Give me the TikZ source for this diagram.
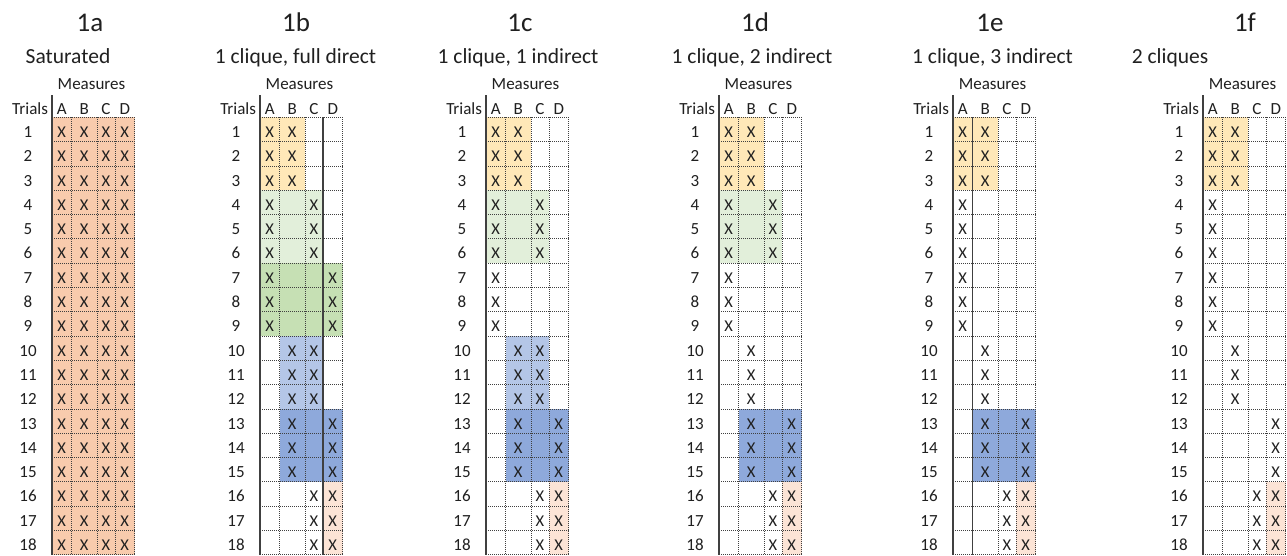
\documentclass[tikz,border=0pt]{standalone}
\usepackage{fontspec}
\setmainfont{Carlito}
\definecolor{salmon}{HTML}{F8CBAD}
\definecolor{ylw}{HTML}{FFE8B8}
\definecolor{lgreen}{HTML}{E2EFDA}
\definecolor{mgreen}{HTML}{C6E0B4}
\definecolor{lblue}{HTML}{B4C6E7}
\definecolor{mblue}{HTML}{8EA9DB}
\definecolor{lpeach}{HTML}{FCE4D6}
\definecolor{gridc}{HTML}{404040}
\definecolor{txt}{HTML}{202020}

\def\yt{117.4}
\def\rh{24.3}
\def\ca{0}\def\cb{19.5}\def\cc{45}\def\cd{63}\def\ce{82.5}
\def\ccA{9.75}\def\ccB{32.25}\def\ccC{54}\def\ccD{72.75}

\newcommand\blk[6]{\fill[#6] ({#1+#2},{\yt+(#4-1)*\rh}) rectangle ({#1+#3},{\yt+#5*\rh});}
\newcommand\xm[4]{\foreach \rr in {#4} {\node[xmark] (p#1-#3\rr) at ({#2+\csname cc#3\endcsname},{\yt+\rr*\rh-4.3}) {X};}}
\newcommand\panel[5]{%
  \foreach \k in {0,...,18} \draw[gridline] (#2,{\yt+\k*\rh}) -- ({#2+\ce},{\yt+\k*\rh});
  \foreach \cx in {\cb,\cc,\cd,\ce} \draw[gridline] ({#2+\cx},\yt) -- ({#2+\cx},{\yt+18*\rh});
  \draw[axisline] (#2,95) -- (#2,555);
  \foreach \rr in {1,...,18} \node[rownum] (p#1-r\rr) at ({#2-24},{\yt+\rr*\rh-4.3}) {\rr};
  \node[hdr, anchor=base east] (p#1-trials) at ({#2-4},114) {Trials};
  \foreach \L in {A,B,C,D} \node[hdr] (p#1-h\L) at ({#2+\csname cc\L\endcsname},114) {\L};
  \node[hdr] (p#1-meas) at ({#2+39.5},89.3) {Measures};
  \node[ttl] (p#1-title) at (#3,31.7) {#1};
  \node[sub] (p#1-sub) at (#4,63.3) {#5};
}

\tikzset{
  every node/.style={inner sep=0pt, outer sep=0pt, anchor=base, text=txt},
  gridline/.style={draw=gridc, line width=0.9pt, dash pattern=on 1pt off 1pt},
  axisline/.style={draw=black!75, line width=1.5pt},
  rownum/.style={font=\fontsize{17}{19}\selectfont},
  xmark/.style={font=\fontsize{16.5}{19}\selectfont},
  hdr/.style={font=\fontsize{17}{19}\selectfont},
  ttl/.style={font=\fontsize{27}{31}\selectfont},
  sub/.style={font=\fontsize{21.5}{26}\selectfont},
}

\begin{document}
\begin{tikzpicture}[x=1pt,y=-1pt]
\useasboundingbox[fill=white] (0,0) rectangle (1287,555);

% ---- 1a
\blk{52}{\ca}{\ce}{1}{18}{salmon}
\panel{1a}{52}{90}{68}{Saturated}
\xm{1a}{52}{A}{1,...,18}\xm{1a}{52}{B}{1,...,18}\xm{1a}{52}{C}{1,...,18}\xm{1a}{52}{D}{1,...,18}

% ---- 1b
\blk{260}{\ca}{\cc}{1}{3}{ylw}
\blk{260}{\ca}{\cd}{4}{6}{lgreen}
\blk{260}{\ca}{\ce}{7}{9}{mgreen}
\blk{260}{\cb}{\cd}{10}{12}{lblue}
\blk{260}{\cb}{\ce}{13}{15}{mblue}
\blk{260}{\cd}{\ce}{16}{18}{lpeach}
\panel{1b}{260}{296}{295.5}{1 clique, full direct}
\draw[axisline] ({260+\cd},\yt) -- ({260+\cd},555);
\xm{1b}{260}{A}{1,...,9}
\xm{1b}{260}{B}{1,2,3,10,11,12,13,14,15}
\xm{1b}{260}{C}{4,5,6,10,11,12,16,17,18}
\xm{1b}{260}{D}{7,8,9,13,14,15,16,17,18}

% ---- 1c
\blk{486}{\ca}{\cc}{1}{3}{ylw}
\blk{486}{\ca}{\cd}{4}{6}{lgreen}
\blk{486}{\cb}{\cd}{10}{12}{lblue}
\blk{486}{\cb}{\ce}{13}{15}{mblue}
\blk{486}{\cd}{\ce}{16}{18}{lpeach}
\panel{1c}{486}{520}{518}{1 clique, 1 indirect}
\xm{1c}{486}{A}{1,...,9}
\xm{1c}{486}{B}{1,2,3,10,11,12,13,14,15}
\xm{1c}{486}{C}{4,5,6,10,11,12,16,17,18}
\xm{1c}{486}{D}{13,...,18}

% ---- 1d
\blk{719}{\ca}{\cc}{1}{3}{ylw}
\blk{719}{\ca}{\cd}{4}{6}{lgreen}
\blk{719}{\cb}{\ce}{13}{15}{mblue}
\blk{719}{\cd}{\ce}{16}{18}{lpeach}
\panel{1d}{719}{755}{752}{1 clique, 2 indirect}
\xm{1d}{719}{A}{1,...,9}
\xm{1d}{719}{B}{1,2,3,10,11,12,13,14,15}
\xm{1d}{719}{C}{4,5,6,16,17,18}
\xm{1d}{719}{D}{13,...,18}

% ---- 1e
\blk{953}{\ca}{\cc}{1}{3}{ylw}
\blk{953}{\cb}{\ce}{13}{15}{mblue}
\blk{953}{\cd}{\ce}{16}{18}{lpeach}
\panel{1e}{953}{990}{992.5}{1 clique, 3 indirect}
\draw[axisline] ({953+\cb},\yt) -- ({953+\cb},555);
\xm{1e}{953}{A}{1,...,9}
\xm{1e}{953}{B}{1,2,3,10,11,12,13,14,15}
\xm{1e}{953}{C}{16,17,18}
\xm{1e}{953}{D}{13,...,18}

% ---- 1f
\blk{1203}{\ca}{\cc}{1}{3}{ylw}
\blk{1203}{\cd}{\ce}{16}{18}{lpeach}
\panel{1f}{1203}{1245}{1170}{2 cliques}
\xm{1f}{1203}{A}{1,...,9}
\xm{1f}{1203}{B}{1,2,3,10,11,12}
\xm{1f}{1203}{C}{16,17,18}
\xm{1f}{1203}{D}{13,...,18}
\end{tikzpicture}
\end{document}
